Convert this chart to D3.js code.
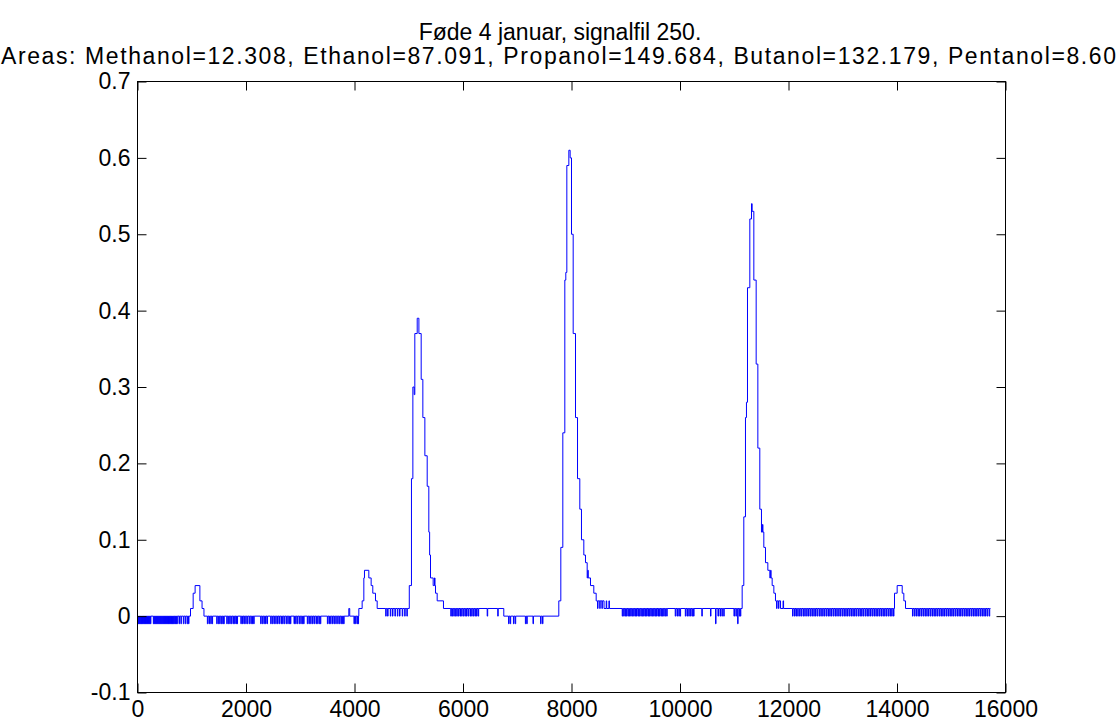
<!DOCTYPE html>
<html>
<head>
<meta charset="utf-8">
<script src="https://cdn.jsdelivr.net/npm/d3@7/dist/d3.min.js"></script>
<style>
  body { margin: 0; background: #fff; }
  svg { display: block; }
  text { font-family: "Liberation Sans", Arial, Helvetica, sans-serif; fill: #000; }
</style>
</head>
<body>
<div id="chart"></div>
<script>
// Chromatogram, signal file 250 (MATLAB style line plot)

var titleLines = [
    'Føde 4 januar, signalfil 250.',
    'Areas: Methanol=12.308, Ethanol=87.091, Propanol=149.684, Butanol=132.179, Pentanol=8.60'
];

var xTickValues = [0, 2000, 4000, 6000, 8000, 10000, 12000, 14000, 16000];
var yTickValues = [-0.1, 0, 0.1, 0.2, 0.3, 0.4, 0.5, 0.6, 0.7];
var yTickLabels = ['-0.1', '0', '0.1', '0.2', '0.3', '0.4', '0.5', '0.6', '0.7'];

// Resting level of the signal: [sample, value], held until the next entry
var levels = [
    [0, 0],
    [977, 0.01], [1026, 0.03], [1062, 0.04], [1150, 0.02], [1190, 0.01], [1225, 0],
    [3895, 0.01], [3912, 0],
    [4080, 0.01], [4141, 0.02], [4172, 0.05], [4184, 0.06], [4264, 0.05], [4307, 0.04],
    [4337, 0.03], [4387, 0.02], [4418, 0.01],
    [5010, 0.04], [5050, 0.18], [5076, 0.30], [5100, 0.29], [5112, 0.37], [5156, 0.39],
    [5187, 0.37], [5229, 0.31], [5260, 0.26], [5297, 0.21], [5340, 0.17], [5370, 0.11],
    [5385, 0.08], [5401, 0.05], [5450, 0.04], [5493, 0.03], [5524, 0.02], [5640, 0.01],
    [6752, 0],
    [7766, 0.02], [7803, 0.09], [7840, 0.24], [7877, 0.44], [7895, 0.45], [7914, 0.59],
    [7951, 0.61], [7975, 0.60], [8000, 0.50], [8031, 0.37], [8074, 0.26], [8111, 0.18],
    [8153, 0.14], [8184, 0.10], [8227, 0.08], [8258, 0.07], [8289, 0.05], [8350, 0.04],
    [8411, 0.03], [8455, 0.02], [8600, 0.01],
    [11146, 0.04], [11176, 0.13], [11207, 0.26], [11225, 0.28], [11244, 0.43], [11287, 0.52],
    [11318, 0.54], [11330, 0.53], [11361, 0.44], [11404, 0.33], [11435, 0.22], [11471, 0.14],
    [11502, 0.11], [11545, 0.09], [11576, 0.07], [11619, 0.06], [11656, 0.05], [11699, 0.04],
    [11730, 0.03], [11760, 0.02], [11853, 0.01],
    [13954, 0.03], [14003, 0.04], [14096, 0.03], [14126, 0.02], [14157, 0.01],
    [15723, 0.01]
];

// Samples where the signal flickers one step (0.01) below its resting level
var dips = [
    5, 22, 40, 58, 75, 93, 112, 130, 147, 165, 184, 202, 220, 238,
    292, 310, 328, 345, 363, 382, 400, 418, 436, 455, 473, 490, 508, 527, 545, 563,
    580, 598, 617, 635, 652, 670, 690, 708, 726, 765, 800, 845, 880, 915, 940,
    1288, 1318, 1350, 1375, 1460, 1490, 1515, 1545, 1572, 1590,
    1645, 1672, 1700, 1728, 1760, 1790, 1815, 1835,
    1905, 1935, 1962, 1995, 2025, 2060, 2090, 2120, 2142,
    2270, 2300, 2330, 2360, 2388,
    2455, 2485, 2515, 2548, 2580, 2610, 2645, 2675, 2705, 2740, 2770, 2800, 2818,
    2885, 2915, 2945, 2980, 3010, 3040, 3062,
    3130, 3160, 3192, 3225, 3255, 3290, 3320, 3350, 3370,
    3500, 3530, 3560, 3595, 3625, 3655, 3690, 3720, 3750, 3780, 3800,
    3990, 4020, 4050, 4066,
    4575, 4610, 4660, 4700, 4745, 4790, 4830, 4880, 4925, 4965,
    5775, 5800, 5830, 5858, 5885, 5915, 5945, 5975, 6005, 6035, 6065, 6095, 6130,
    6160, 6190, 6220, 6250, 6280, 6446, 6640,
    6840, 6870, 6930, 6962, 7150, 7175, 7290, 7430, 7465,
    8480, 8520, 8560,
    8935, 8962, 8988, 9012, 9040, 9068, 9092, 9118, 9146, 9172, 9198, 9225, 9250,
    9278, 9305, 9330, 9356, 9384, 9410, 9436, 9462, 9490, 9515, 9542, 9568, 9595,
    9620, 9648, 9675, 9700, 9728, 9755,
    9912, 9945, 9978, 10002, 10098, 10130, 10162, 10195, 10225, 10250, 10402, 10562,
    10700, 10738, 10772, 10806, 10995, 11030, 11092, 11112,
    11780, 11815,
    12075, 12110, 12138, 12170, 12205, 12236, 12270, 12300, 12335, 12368, 12400, 12432,
    12466, 12498, 12530, 12565, 12596, 12630, 12662, 12695, 12728, 12760, 12792, 12826,
    12858, 12890, 12925, 12957, 12990, 13022, 13055, 13088, 13120, 13152, 13186, 13218,
    13250, 13284, 13316, 13348, 13380, 13414, 13446, 13478, 13512, 13544, 13576, 13610,
    13642, 13675, 13706, 13740, 13772, 13805, 13838, 13870, 13902, 13935,
    14285, 14318, 14350, 14385, 14416, 14450, 14482, 14515, 14548, 14580, 14613, 14646,
    14680, 14712, 14745, 14778, 14810, 14843, 14876, 14910, 14942, 14975, 15008, 15040,
    15073, 15106, 15140, 15172, 15205, 15238, 15270, 15303, 15336, 15370, 15402, 15435,
    15468, 15500, 15533, 15566, 15600, 15632, 15665, 15700
];

// Samples where it flickers one step above, and two steps below
var blips = [5475, 8300, 8640, 8690, 11520, 11670, 11900];
var deepDips = [10655, 11062];

var FLICK = 9; // flicker length in samples

var width = 1117, height = 722;
var margin = { top: 81, right: 112, bottom: 30, left: 137 };
var innerW = width - margin.left - margin.right;
var innerH = height - margin.top - margin.bottom;

var svg = d3.select('#chart').append('svg')
    .attr('width', width)
    .attr('height', height);

var x = d3.scaleLinear().domain([0, 16000]).range([0, innerW]);
var y = d3.scaleLinear().domain([-0.1, 0.7]).range([innerH, 0]);

var g = svg.append('g')
    .attr('transform', 'translate(' + (margin.left + 0.5) + ',' + (margin.top + 0.5) + ')');

// resting level at a sample
function levelAt(s) {
    var v = levels[0][1];
    for (var i = 0; i < levels.length; i++) {
        if (levels[i][0] <= s) v = levels[i][1]; else break;
    }
    return v;
}

// merge levels and flickers into one step series
var pts = levels.map(function (d, i) { return { s: d[0], v: d[1], k: i }; });
function addFlick(list, delta) {
    list.forEach(function (p) {
        var base = levelAt(p);
        pts.push({ s: p, v: base + delta, k: 0 });
        pts.push({ s: p + FLICK, v: base, k: 0 });
    });
}
addFlick(dips, -0.01);
addFlick(blips, 0.01);
addFlick(deepDips, -0.02);
pts.sort(function (a, b) { return a.s - b.s || a.k - b.k; });

var line = d3.line()
    .x(function (d) { return x(d.s); })
    .y(function (d) { return y(d.v); })
    .curve(d3.curveStepAfter);

g.append('path')
    .datum(pts)
    .attr('fill', 'none')
    .attr('stroke', '#0000ff')
    .attr('stroke-width', 1)
    .attr('d', line);

// Axes: ticks inside on all four sides, labels on bottom and left
var tick = 9;
var fontSize = '23px';

var xb = g.append('g')
    .attr('transform', 'translate(0,' + innerH + ')')
    .call(d3.axisBottom(x).tickValues(xTickValues).tickFormat(d3.format('d'))
        .tickSizeInner(-tick).tickSizeOuter(0).tickPadding(8));
var xt = g.append('g')
    .call(d3.axisTop(x).tickValues(xTickValues).tickFormat('')
        .tickSizeInner(-tick).tickSizeOuter(0));
var yl = g.append('g')
    .call(d3.axisLeft(y).tickValues(yTickValues)
        .tickFormat(function (d, i) { return yTickLabels[i]; })
        .tickSizeInner(-tick).tickSizeOuter(0).tickPadding(7));
var yr = g.append('g')
    .attr('transform', 'translate(' + innerW + ',0)')
    .call(d3.axisRight(y).tickValues(yTickValues).tickFormat('')
        .tickSizeInner(-tick).tickSizeOuter(0));

[xb, xt, yl, yr].forEach(function (a) {
    a.select('.domain').remove();
    a.selectAll('.tick line').attr('stroke', '#000');
    a.selectAll('text')
        .attr('font-size', fontSize)
        .attr('font-family', '"Liberation Sans", Arial, sans-serif')
        .attr('fill', '#000');
});

// Box
g.append('rect')
    .attr('x', 0).attr('y', 0)
    .attr('width', innerW).attr('height', innerH)
    .attr('fill', 'none')
    .attr('stroke', '#000')
    .attr('stroke-width', 1);

// Title (two lines, the second one runs to the figure edge)
svg.append('text')
    .attr('x', 560)
    .attr('y', 40)
    .attr('text-anchor', 'middle')
    .attr('font-size', fontSize)
    .text(titleLines[0]);

svg.append('text')
    .attr('x', 1)
    .attr('y', 64)
    .attr('text-anchor', 'start')
    .attr('font-size', fontSize)
    .attr('textLength', 1115)
    .attr('lengthAdjust', 'spacing')
    .text(titleLines[1]);
</script>
</body>
</html>
